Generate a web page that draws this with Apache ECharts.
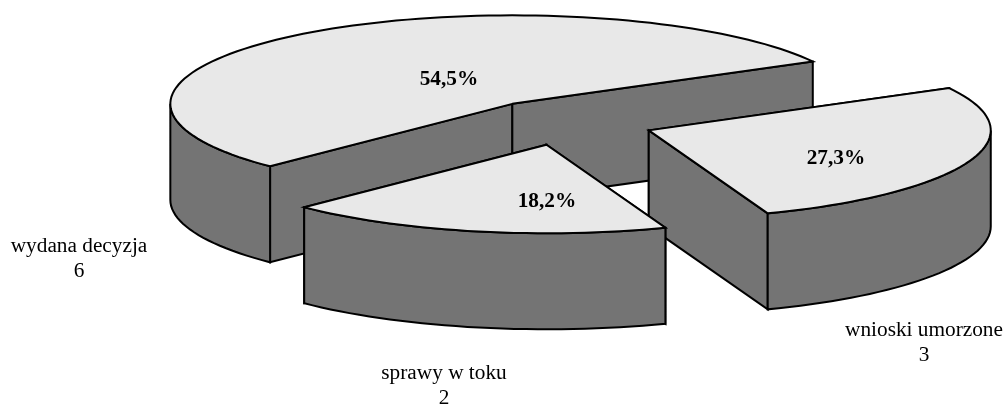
<!DOCTYPE html>
<html>
<head>
<meta charset="utf-8">
<style>
html, body { margin: 0; padding: 0; background: #fff; }
#chart { width: 1005px; height: 406px; }
</style>
<script src="https://cdn.jsdelivr.net/npm/echarts@6/dist/echarts.min.js"></script>
</head>
<body>
<div id="chart"></div>
<script>
var categories = ['wydana decyzja', 'wnioski umorzone', 'sprawy w toku'];
var counts = [6, 3, 2];

// pie layout
var centerX = 565.5, centerY = 122.3;
var radiusX = 342, radiusY = 88.5;
var depth = 96;
var explode = 0.26;
var startAngle = 224.9;   // slices run clockwise from here

var percentLabelPos = [[449, 79], [836, 158], [547, 201]];
var nameLabelPos = [[79, 259], [924, 343], [444, 386]];

var total = counts.reduce(function (a, b) { return a + b; }, 0);
var font = '"Liberation Serif", "Times New Roman", serif';

function point(ox, oy, deg) {
	var r = deg * Math.PI / 180;
	return [ox + radiusX * Math.cos(r), oy - radiusY * Math.sin(r)];
}

function arcPoints(ox, oy, from, to) {
	var steps = Math.max(2, Math.ceil(Math.abs(from - to) / 2));
	var pts = [];
	for (var i = 0; i <= steps; i++) {
		pts.push(point(ox, oy, from + (to - from) * i / steps));
	}
	return pts;
}

function lowered(pts) {
	return pts.map(function (p) { return [p[0], p[1] + depth]; }).reverse();
}

function face(pts, fill) {
	return {
		type: 'polygon',
		shape: { points: pts },
		style: { fill: fill, stroke: '#000', lineWidth: 2, lineJoin: 'miter' }
	};
}

function renderSlice(params, api) {
	var i = params.dataIndex;
	var before = 0;
	for (var k = 0; k < i; k++) before += counts[k];
	var value = api.value(0);
	var a0 = startAngle - before / total * 360;
	var a1 = a0 - value / total * 360;
	var mid = (a0 + a1) / 2;
	var m = mid * Math.PI / 180;

	var ox = centerX + explode * radiusX * Math.cos(m);
	var oy = centerY - explode * radiusY * Math.sin(m);
	var apex = [ox, oy];
	var p0 = point(ox, oy, a0);
	var p1 = point(ox, oy, a1);

	var children = [];
	var wallFill = '#747474', topFill = '#e8e8e8';

	// radial walls
	children.push(face([apex, p0].concat(lowered([apex, p0])), wallFill));
	children.push(face([apex, p1].concat(lowered([apex, p1])), wallFill));

	// outer wall, only the part on the near side of the ellipse
	for (var b = -1; b <= 1; b++) {
		var lo = Math.max(a1, 180 + 360 * b);
		var hi = Math.min(a0, 360 + 360 * b);
		if (hi > lo) {
			var arc = arcPoints(ox, oy, hi, lo);
			children.push(face(arc.concat(lowered(arc)), wallFill));
		}
	}

	// top
	children.push(face([apex].concat(arcPoints(ox, oy, a0, a1)), topFill));

	children.push({
		type: 'text',
		style: {
			x: percentLabelPos[i][0], y: percentLabelPos[i][1],
			text: (value / total * 100).toFixed(1).replace('.', ',') + '%',
			font: 'bold 21.3px ' + font,
			fill: '#000', align: 'center', verticalAlign: 'middle'
		}
	});
	children.push({
		type: 'text',
		style: {
			x: nameLabelPos[i][0], y: nameLabelPos[i][1],
			text: categories[i] + '\n' + value,
			font: '21.3px ' + font,
			lineHeight: 25,
			fill: '#000', align: 'center', verticalAlign: 'middle'
		}
	});

	return { type: 'group', children: children };
}

var chart = echarts.init(document.getElementById('chart'));
chart.setOption({
	animation: false,
	backgroundColor: '#fff',
	series: [{
		type: 'custom',
		coordinateSystem: 'none',
		renderItem: renderSlice,
		data: counts.map(function (v) { return [v]; })
	}]
});
</script>
</body>
</html>
